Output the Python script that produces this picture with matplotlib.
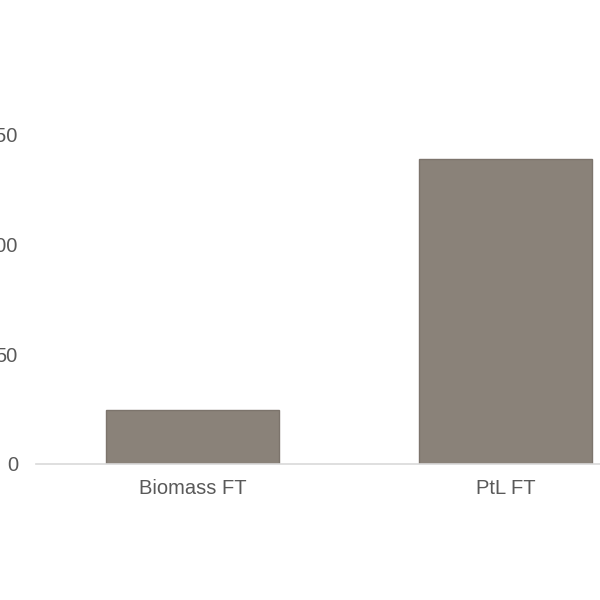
import matplotlib.pyplot as plt

# Data
categories = ['Biomass FT', 'PtL FT']
values = [24.5, 139]
y_ticks = [0, 50, 100, 150]

plt.rcParams['font.family'] = ['Liberation Sans', 'DejaVu Sans']

fig = plt.figure(figsize=(6, 6), dpi=100)
# axes runs past the figure edges, the reference is a crop of a bigger chart
ax = fig.add_axes([0.06, 0.2267, 1.0433, 0.5483])

ax.bar(range(len(categories)), values, width=0.553,
       color='#8a8279', edgecolor='#7c746c', linewidth=1)

ax.set_xlim(-0.5, len(categories) - 0.5)
ax.set_ylim(0, 150)
ax.set_yticks(y_ticks)
ax.set_xticks(range(len(categories)))
ax.set_xticklabels(categories)

for side in ['top', 'right', 'left']:
    ax.spines[side].set_visible(False)
ax.spines['bottom'].set_color('#d9d9d9')
ax.spines['bottom'].set_linewidth(1.2)

ax.tick_params(axis='y', length=0, pad=13, labelsize=14.5, labelcolor='#595959')
ax.tick_params(axis='x', length=0, pad=11, labelsize=14.5, labelcolor='#595959')

fig.savefig('out.png', dpi=100)
